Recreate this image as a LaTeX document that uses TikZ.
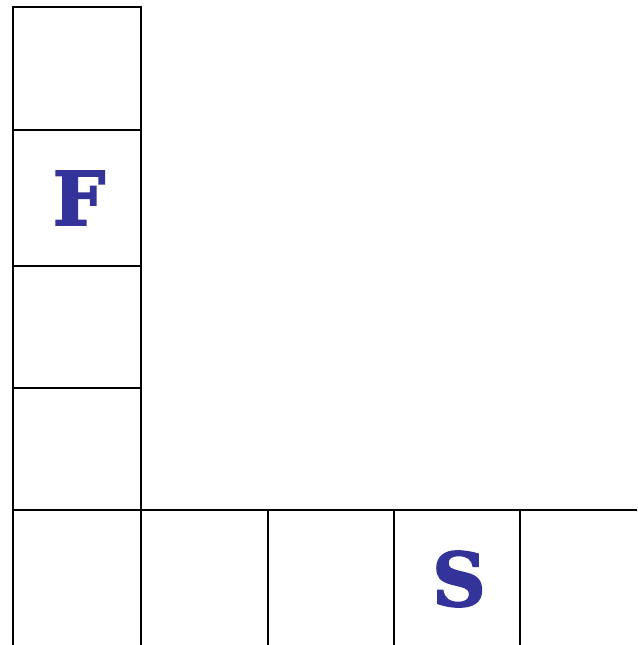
\documentclass[tikz,border=0pt]{standalone}
\usepackage{fontspec}
\newfontfamily\letterfont[FakeBold=2.5]{DejaVu Serif}
\definecolor{lettercol}{HTML}{333399}
\begin{document}
\begin{tikzpicture}[x=1pt,y=-1pt,
  cell/.style={draw=black,line width=1.4pt},
  letter/.style={text=lettercol,font=\letterfont\bfseries\fontsize{74}{74}\selectfont,inner sep=0pt}]
\useasboundingbox (0,0) rectangle (637,645);
\clip (0,0) rectangle (637,645);
% left column
\draw[cell] (13,7) rectangle (141,130);
\draw[cell] (13,130) rectangle (141,266);
\draw[cell] (13,266) rectangle (141,388);
\draw[cell] (13,388) rectangle (141,510);
% bottom row
\draw[cell] (13,510) rectangle (141,670);
\draw[cell] (141,510) rectangle (268,670);
\draw[cell] (268,510) rectangle (394,670);
\draw[cell] (394,510) rectangle (520,670);
\draw[cell] (520,510) rectangle (660,670);
% letters
\node[letter] (F) at (79,198) {F};
\node[letter] (S) at (459,579) {S};
\end{tikzpicture}
\end{document}
